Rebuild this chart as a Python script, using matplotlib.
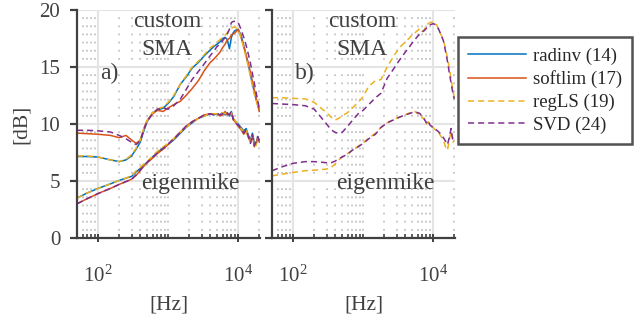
import numpy as np
import matplotlib
matplotlib.use("Agg")
import matplotlib.pyplot as plt
from matplotlib import ticker

plt.rcParams['font.family'] = ['Liberation Serif', 'DejaVu Serif']
plt.rcParams['mathtext.fontset'] = 'custom'
plt.rcParams['mathtext.rm'] = 'Liberation Serif'
plt.rcParams['mathtext.default'] = 'regular'

# frequency grid [Hz] shared by all curves
freq = [50, 70, 100, 150, 200, 250, 300, 350, 400, 450, 500, 600, 700, 850, 1000,
        1200, 1500, 1800, 2200, 2700, 3300, 4000, 4500, 5000, 5500, 6000, 6500,
        7000, 7500, 8000, 8500, 9000, 10000, 11000, 12000, 13000, 14000, 15000,
        16000, 17000, 18000, 19000, 20000]

labels = ['radinv (14)', 'softlim (17)', 'regLS (19)', 'SVD (24)']
colors = ['#0072BD', '#D95319', '#EDB120', '#7E2F8E']

# a) custom SMA
a_sma_radinv = [7.15, 7.15, 7.1, 6.85, 6.7, 6.85, 7.2, 7.8, 8.4, 9.4, 10.2, 11.0, 11.2, 11.4, 11.8,
                12.4, 13.5, 14.1, 14.9, 15.4, 16.0, 16.5, 16.8, 17.0, 17.2, 17.5, 17.6, 17.4, 16.6,
                17.6, 18.0, 18.2, 18.3, 17.8, 16.9, 16.0, 15.2, 14.3, 13.5, 12.8, 12.2, 11.7, 11.2]
a_sma_softlim = [9.2, 9.15, 9.1, 9.0, 8.8, 9.0, 8.6, 8.3, 8.6, 9.6, 10.3, 10.9, 11.2, 11.1, 11.4,
                 11.7, 12.0, 12.5, 13.1, 13.8, 14.7, 15.4, 15.7, 16.0, 16.3, 16.7, 17.0, 17.4, 17.5,
                 17.8, 17.9, 18.0, 18.3, 17.6, 16.8, 16.0, 15.3, 14.5, 13.7, 13.0, 12.3, 11.7, 11.1]
a_sma_regls = [7.2, 7.2, 7.1, 6.85, 6.7, 6.9, 7.3, 7.9, 8.6, 9.6, 10.3, 11.0, 11.3, 11.5, 11.9,
               12.5, 13.5, 14.2, 15.0, 15.5, 16.1, 16.7, 16.9, 17.2, 17.4, 17.6, 17.8, 18.0, 18.3,
               18.4, 18.5, 18.5, 18.3, 17.6, 16.7, 15.8, 15.0, 14.1, 13.3, 12.6, 12.1, 11.6, 11.2]
a_sma_svd = [9.45, 9.45, 9.4, 9.3, 9.0, 8.7, 8.4, 8.2, 8.5, 9.5, 10.2, 10.9, 11.3, 11.4, 11.3,
             11.6, 12.2, 13.0, 13.9, 14.6, 15.3, 16.0, 16.4, 16.8, 17.0, 17.3, 17.6, 17.9, 18.3,
             18.9, 19.0, 19.0, 18.9, 18.3, 17.6, 16.9, 16.1, 15.3, 14.4, 13.6, 12.8, 12.1, 11.4]

# a) eigenmike
a_em_radinv = [3.5, 3.95, 4.35, 4.75, 5.05, 5.25, 5.4, 5.8, 6.1, 6.4, 6.6, 7.1, 7.5, 7.9, 8.2,
               8.6, 9.2, 9.7, 10.1, 10.5, 10.7, 10.9, 10.8, 10.9, 10.8, 11.0, 10.8, 11.0, 10.7,
               11.1, 10.5, 10.3, 10.0, 9.7, 9.4, 9.6, 9.0, 8.6, 9.2, 8.3, 8.2, 8.9, 8.6]
a_em_softlim = [3.0, 3.45, 3.9, 4.35, 4.7, 4.95, 5.15, 5.5, 5.9, 6.3, 6.6, 7.0, 7.4, 7.8, 8.2,
                8.7, 9.3, 9.8, 10.2, 10.5, 10.8, 10.9, 10.9, 10.9, 10.7, 10.8, 11.1, 10.8, 10.9,
                11.0, 10.4, 10.2, 9.8, 9.5, 9.1, 9.4, 8.8, 8.4, 9.0, 8.0, 8.3, 8.8, 8.4]
a_em_regls = [3.5, 3.95, 4.35, 4.75, 5.05, 5.25, 5.45, 5.9, 6.2, 6.5, 6.7, 7.2, 7.6, 8.0, 8.3,
              8.7, 9.3, 9.7, 10.1, 10.5, 10.7, 10.9, 10.9, 10.9, 10.8, 11.0, 10.9, 11.0, 10.8,
              11.0, 10.5, 10.3, 10.0, 9.6, 9.3, 9.5, 8.9, 8.5, 9.1, 8.2, 8.1, 8.8, 8.5]
a_em_svd = [3.0, 3.45, 3.9, 4.35, 4.7, 4.95, 5.15, 5.55, 5.95, 6.35, 6.65, 7.05, 7.45, 7.85, 8.25,
            8.7, 9.3, 9.8, 10.2, 10.5, 10.8, 10.9, 10.8, 10.9, 10.8, 10.9, 11.0, 10.9, 10.8,
            11.1, 10.4, 10.1, 9.9, 9.6, 9.2, 9.5, 8.9, 8.3, 9.1, 8.1, 8.4, 8.9, 8.5]

# b) custom SMA (regLS and SVD only)
b_sma_regls = [12.3, 12.3, 12.25, 12.2, 11.9, 11.4, 11.0, 10.6, 10.35, 10.5, 10.7, 11.0, 11.4, 11.9, 12.4,
               13.3, 13.8, 13.9, 15.0, 15.9, 16.7, 17.2, 17.5, 17.8, 18.0, 18.2, 18.4, 18.1, 18.3,
               18.7, 18.8, 18.9, 18.95, 18.8, 18.3, 17.8, 17.4, 16.6, 15.8, 14.9, 14.0, 13.1, 12.3]
b_sma_svd = [11.8, 11.75, 11.7, 11.6, 11.3, 10.6, 10.0, 9.5, 9.25, 9.2, 9.25, 9.8, 10.3, 10.9, 11.2,
             11.7, 12.3, 12.7, 14.0, 14.8, 15.6, 16.3, 16.7, 17.1, 17.4, 17.7, 17.9, 18.1, 18.2,
             18.4, 18.6, 18.7, 18.8, 18.7, 18.3, 17.8, 17.3, 16.4, 15.5, 14.5, 13.6, 12.8, 12.2]

# b) eigenmike
b_em_regls = [5.45, 5.6, 5.75, 5.9, 5.95, 6.0, 6.05, 6.2, 6.5, 6.85, 7.1, 7.4, 7.7, 8.05, 8.35,
              8.75, 9.2, 9.7, 10.1, 10.4, 10.6, 10.8, 10.95, 11.0, 11.1, 10.9, 11.0, 10.5, 10.5,
              10.0, 10.2, 9.8, 9.7, 9.4, 9.2, 8.9, 8.6, 8.0, 7.7, 8.6, 9.4, 8.4, 8.5]
b_em_svd = [5.9, 6.25, 6.55, 6.7, 6.7, 6.65, 6.6, 6.6, 6.75, 6.95, 7.1, 7.35, 7.7, 8.0, 8.3,
            8.7, 9.1, 9.7, 10.1, 10.35, 10.6, 10.8, 10.9, 11.0, 11.05, 11.0, 10.9, 10.6, 10.4,
            10.1, 10.3, 9.9, 9.7, 9.5, 9.3, 9.1, 8.8, 8.5, 8.2, 8.8, 9.6, 8.7, 8.6]

txtcol = '#404040'
dash = (0, (4, 2.6))
styles = ['-', '-', dash, dash]

fig = plt.figure(figsize=(6.34, 3.21), dpi=100)
W, H = 634, 321
axL = fig.add_axes([77 / W, 1 - 238 / H, 183 / W, 228 / H])
axR = fig.add_axes([272 / W, 1 - 238 / H, 183 / W, 228 / H])

# left panel: all four methods
for i, (sma, em) in enumerate(zip([a_sma_radinv, a_sma_softlim, a_sma_regls, a_sma_svd],
                                  [a_em_radinv, a_em_softlim, a_em_regls, a_em_svd])):
    axL.plot(freq, sma, color=colors[i], lw=1.1, ls=styles[i], label=labels[i])
    axL.plot(freq, em, color=colors[i], lw=1.1, ls=styles[i])

# right panel: regLS and SVD
for i, (sma, em) in zip([2, 3], [(b_sma_regls, b_em_regls), (b_sma_svd, b_em_svd)]):
    axR.plot(freq, sma, color=colors[i], lw=1.1, ls=styles[i])
    axR.plot(freq, em, color=colors[i], lw=1.1, ls=styles[i])

# dotted minor x grid, dot pitch = 5/7 dB so the dots form a lattice
glw = 1.3
dotpitch = 228 * 0.72 / 28 / glw

for ax, tag in [(axL, 'a)'), (axR, 'b)')]:
    ax.set_xscale('log')
    ax.set_xlim(50, 20500)
    ax.set_ylim(0, 20)
    ax.set_yticks([0, 5, 10, 15, 20])
    ax.xaxis.set_major_locator(ticker.FixedLocator([1e2, 1e4]))
    ax.xaxis.set_major_formatter(ticker.LogFormatterMathtext())
    ax.xaxis.set_minor_locator(ticker.LogLocator(base=10, subs=np.arange(1, 10), numticks=30))
    ax.xaxis.set_minor_formatter(ticker.NullFormatter())
    ax.set_axisbelow(True)
    ax.grid(which='major', color='#e4e4e4', lw=1.5)
    ax.grid(which='minor', axis='x', color='#c4c4c4', lw=glw,
            ls=(0.5, (1.0, dotpitch - 1.0)))
    for s in ['top', 'right']:
        ax.spines[s].set_visible(False)
    for s in ['left', 'bottom']:
        ax.spines[s].set_color(txtcol)
        ax.spines[s].set_linewidth(1.6)
    ax.tick_params(axis='y', direction='out', length=5, width=1.6, color=txtcol,
                   labelcolor=txtcol, labelsize=15, pad=7)
    ax.tick_params(axis='x', which='major', direction='inout', length=6, width=1.4,
                   color=txtcol, labelcolor=txtcol, labelsize=15, pad=17)
    ax.tick_params(axis='x', which='minor', direction='in', length=3, width=1.2, color=txtcol)
    ax.set_xlabel('[Hz]', fontsize=15.5, color=txtcol, labelpad=6)

    ax.text(968, 18.5, 'custom', ha='center', va='baseline', fontsize=17, color=txtcol)
    ax.text(968, 16.05, 'SMA', ha='center', va='baseline', fontsize=17, color=txtcol)
    ax.text(2100, 4.3, 'eigenmike', ha='center', va='baseline', fontsize=17, color=txtcol)
    ax.text(108, 13.95, tag, ha='left', va='baseline', fontsize=17, color=txtcol)

axR.tick_params(axis='y', labelleft=False)
axL.set_ylabel('[dB]', fontsize=15.5, color=txtcol, labelpad=6)

h, l = axL.get_legend_handles_labels()
leg = fig.legend(h, l, loc='upper left', bbox_to_anchor=(458 / W, 1 - 37 / H),
                 frameon=True, fancybox=False, edgecolor='#262626', fontsize=13.5,
                 handlelength=3.1, handletextpad=0.35, labelspacing=0.3,
                 borderaxespad=0, borderpad=0.55, labelcolor='#262626')
leg.get_frame().set_linewidth(1.8)

fig.savefig('out.png', dpi=100)
